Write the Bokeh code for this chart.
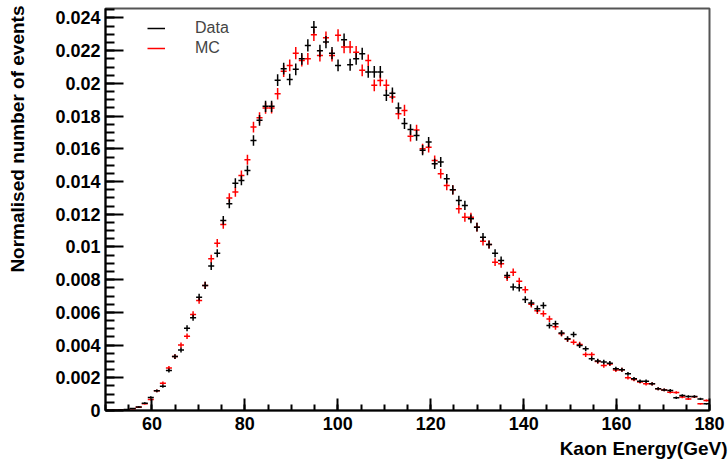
import numpy as np
from bokeh.plotting import figure
from bokeh.models import (ColumnDataSource, SingleIntervalTicker, CustomJSTickFormatter,
                          Range1d, Legend, LegendItem, Title)
from bokeh.embed import file_html
from bokeh.resources import INLINE

# ---------------- data ----------------
E_MIN, E_MAX, N_BINS = 50.0, 180.0, 100
N_EVENTS = 160000          # effective statistics for the error bars (sqrt(N)/N)

data_vals = [
    0.0, 0.00001, 0.00003, 0.00006, 0.00012, 0.00022, 0.00045, 0.0008, 0.0012, 0.00149,
    0.00245, 0.0033, 0.0037, 0.00503, 0.00567, 0.00693, 0.00765, 0.00883, 0.00962, 0.01162,
    0.01264, 0.0139, 0.01407, 0.01468, 0.01651, 0.01774, 0.0186, 0.0186, 0.0202, 0.0209,
    0.02024, 0.02086, 0.0215, 0.02232, 0.02344, 0.0220, 0.02253, 0.02185, 0.0211, 0.02267,
    0.02114, 0.0215, 0.02181, 0.0207, 0.0207, 0.0207, 0.01927, 0.0194, 0.0185, 0.01755,
    0.01718, 0.01682, 0.01592, 0.01641, 0.01508, 0.01519, 0.01417, 0.01349, 0.01284, 0.01254,
    0.01172, 0.01121, 0.0106, 0.01015, 0.00962, 0.00917, 0.00826, 0.00755, 0.0075, 0.00678,
    0.00657, 0.00622, 0.00642, 0.0052, 0.0053, 0.00474, 0.00438, 0.00465, 0.00398, 0.00377,
    0.00316, 0.00302, 0.00296, 0.00289, 0.00255, 0.00249, 0.00224, 0.00194, 0.00179, 0.00179,
    0.00163, 0.00133, 0.00126, 0.00122, 0.00078, 0.00092, 0.00086, 0.00086, 0.00071, 0.00041,
]

mc_vals = [
    0.0, 0.00001, 0.00002, 0.00005, 0.0001, 0.0002, 0.00042, 0.00067, 0.0012, 0.00167,
    0.0026, 0.0033, 0.0040, 0.00454, 0.00587, 0.00673, 0.00765, 0.00928, 0.01023, 0.01138,
    0.0130, 0.01336, 0.01437, 0.01533, 0.01733, 0.0179, 0.01849, 0.0185, 0.01937, 0.02075,
    0.0211, 0.02185, 0.0214, 0.0215, 0.02297, 0.02171, 0.02279, 0.0217, 0.02294, 0.02222,
    0.02222, 0.02191, 0.0208, 0.0214, 0.01988, 0.02018, 0.01988, 0.01917, 0.01815, 0.01835,
    0.01677, 0.01715, 0.0160, 0.0161, 0.01529, 0.01448, 0.01376, 0.01349, 0.01233, 0.01182,
    0.01182, 0.01121, 0.01035, 0.01015, 0.00907, 0.00897, 0.00815, 0.00846, 0.0079, 0.00738,
    0.0065, 0.0061, 0.00592, 0.0056, 0.00512, 0.0047, 0.00435, 0.00418, 0.00404, 0.00342,
    0.00342, 0.0030, 0.00275, 0.00285, 0.00248, 0.00249, 0.0020, 0.0019, 0.00175, 0.00163,
    0.00163, 0.00133, 0.00126, 0.00112, 0.0011, 0.00082, 0.00071, 0.00084, 0.00041, 0.00061,
]

series_labels = ["Data", "MC"]
series_colors = ["black", "red"]
x_title = "Kaon Energy(GeV)"
y_title = "Normalised number of events"

# ---------------- derived histogram geometry ----------------
edges = np.linspace(E_MIN, E_MAX, N_BINS + 1)
centers = 0.5 * (edges[:-1] + edges[1:])
half_w = 0.5 * (edges[1] - edges[0])


def make_source(vals):
    v = np.array(vals, dtype=float)
    err = np.sqrt(v / N_EVENTS)
    return ColumnDataSource(dict(
        x=centers, y=v,
        xl=centers - half_w, xr=centers + half_w,
        yl=v - err, yh=v + err,
    ))


FONT = "Liberation Sans"

p = figure(width=728, height=466, output_backend="svg", toolbar_location=None,
           x_range=Range1d(E_MIN, E_MAX), y_range=Range1d(0, 0.02458),
           min_border_left=105, min_border_right=19, min_border_top=8, min_border_bottom=56)
p.background_fill_color = "white"
p.border_fill_color = "white"
p.outline_line_color = "#555555"
p.outline_line_width = 2
p.grid.visible = False

renderers = []
for vals, col in [(mc_vals, series_colors[1]), (data_vals, series_colors[0])]:
    src = make_source(vals)
    p.segment(x0="x", y0="yl", x1="x", y1="yh", source=src, line_color=col, line_width=1.5)
    r = p.segment(x0="xl", y0="y", x1="xr", y1="y", source=src, line_color=col, line_width=1.5)
    renderers.append(r)
mc_r, data_r = renderers

# axes
p.xaxis.ticker = SingleIntervalTicker(interval=20, num_minor_ticks=4)
p.yaxis.ticker = SingleIntervalTicker(interval=0.002, num_minor_ticks=4)
p.yaxis.formatter = CustomJSTickFormatter(code='return tick.toFixed(3).replace(/\\.?0+$/, "");')

for ax in (p.xaxis[0], p.yaxis[0]):
    ax.axis_line_width = 2
    ax.axis_line_color = "black"
    ax.major_tick_line_width = 2
    ax.minor_tick_line_width = 2
    ax.major_tick_line_color = "black"
    ax.minor_tick_line_color = "black"
    ax.major_tick_out = 0
    ax.minor_tick_out = 0
    ax.major_label_text_font = FONT
    ax.major_label_text_font_style = "bold"
    ax.major_label_text_font_size = "18px"
    ax.major_label_text_color = "black"

p.xaxis.major_tick_in = 12
p.xaxis.minor_tick_in = 6
p.xaxis.major_label_standoff = 6
p.yaxis.major_tick_in = 18
p.yaxis.minor_tick_in = 9
p.yaxis.major_label_standoff = 5
# blank spacer label on the y axis: keeps the title away from the tick labels
p.yaxis.axis_label = "\u00a0"
p.yaxis.axis_label_text_font_size = "1px"
p.yaxis.axis_label_standoff = 17

# axis titles (ROOT style: aligned to the far end of each axis)
p.add_layout(Title(text=x_title, align="right", offset=-18, standoff=6,
                   text_font=FONT, text_font_style="bold", text_font_size="19px",
                   text_color="black"), "below")
p.add_layout(Title(text=y_title, align="right", offset=-3, standoff=8,
                   text_font=FONT, text_font_style="bold", text_font_size="19px",
                   text_color="black"), "left")

legend = Legend(items=[LegendItem(label=series_labels[0], renderers=[data_r]),
                       LegendItem(label=series_labels[1], renderers=[mc_r])],
                location=(42, 352), orientation="vertical",
                glyph_width=18, glyph_height=20, label_standoff=30,
                spacing=0, padding=0, margin=0,
                label_text_font=FONT, label_text_font_size="16px",
                border_line_alpha=0, background_fill_alpha=0)
p.add_layout(legend)

open("out.html", "w").write(file_html(p, INLINE))
